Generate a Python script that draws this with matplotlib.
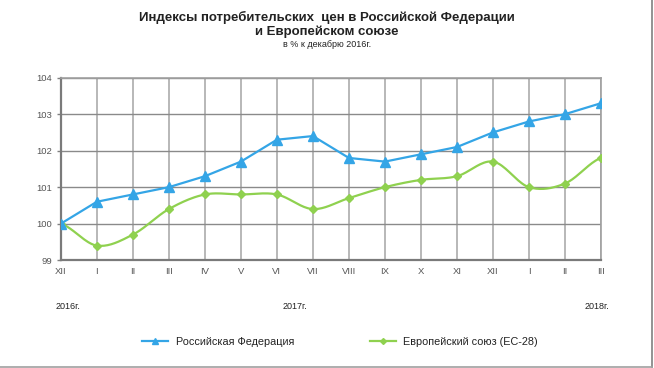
import numpy as np
import matplotlib
matplotlib.use("Agg")
import matplotlib.pyplot as plt
from matplotlib.lines import Line2D

plt.rcParams['font.family'] = ['Liberation Sans', 'DejaVu Sans']

months = ['XII', 'I', 'II', 'III', 'IV', 'V', 'VI', 'VII', 'VIII', 'IX', 'X', 'XI',
          'XII', 'I', 'II', 'III']
years = ['2016г.', '2017г.', '2018г.']
year_pos = [0.2, 6.5, 14.9]
rf = [100.0, 100.6, 100.8, 101.0, 101.3, 101.7, 102.3, 102.4, 101.8, 101.7, 101.9,
      102.1, 102.5, 102.8, 103.0, 103.3]
eu = [100.0, 99.4, 99.7, 100.4, 100.8, 100.8, 100.8, 100.4, 100.7, 101.0, 101.2,
      101.3, 101.7, 101.0, 101.1, 101.8]

blue = '#34a5e6'
green = '#8fd14f'


def smooth(y, steps=20):
    # catmull-rom curve through the points, like the smoothed line in excel
    y = np.asarray(y, float)
    n = len(y)
    xs, ys = [], []
    for i in range(n - 1):
        p0 = y[max(i - 1, 0)]
        p1 = y[i]
        p2 = y[i + 1]
        p3 = y[min(i + 2, n - 1)]
        t = np.linspace(0, 1, steps, endpoint=False)
        yy = 0.5 * (2 * p1 + (-p0 + p2) * t + (2 * p0 - 5 * p1 + 4 * p2 - p3) * t ** 2
                    + (-p0 + 3 * p1 - 3 * p2 + p3) * t ** 3)
        xs.extend(i + t)
        ys.extend(yy)
    xs.append(n - 1)
    ys.append(y[-1])
    return np.array(xs), np.array(ys)


fig = plt.figure(figsize=(6.54, 3.68), dpi=100)
ax = fig.add_axes([0.093, 0.293, 0.826, 0.496])

x = np.arange(len(months))
ax.plot(x, rf, color=blue, lw=1.6, marker='^', ms=6.5, zorder=4)
sx, sy = smooth(eu)
ax.plot(sx, sy, color=green, lw=1.6, zorder=3)
ax.plot(x, eu, ls='none', color=green, marker='D', ms=4.5, zorder=3)

ax.set_xlim(0, len(months) - 1)
ax.set_ylim(99, 104)
ax.set_yticks([99, 100, 101, 102, 103, 104])
ax.set_xticks(x)
ax.set_xticklabels(months)
ax.tick_params(axis='both', labelsize=6.8, labelcolor='#555555', length=3,
               color='#808080', width=1)
ax.tick_params(axis='x', length=0, pad=5)
ax.grid(axis='x', color='#b8b8b8', lw=1.4)
ax.grid(axis='y', color='#8a8a8a', lw=1.0)
ax.set_axisbelow(True)
for s in ['top', 'right']:
    ax.spines[s].set_color('#a0a0a0')
    ax.spines[s].set_linewidth(1.2)
for s in ['left', 'bottom']:
    ax.spines[s].set_color('#7a7a7a')
    ax.spines[s].set_linewidth(1.6)

for yl, yp in zip(years, year_pos):
    ax.annotate(yl, xy=(yp, 0), xycoords=('data', 'figure fraction'),
                xytext=(0, 59), textcoords='offset pixels', ha='center',
                fontsize=6.5, color='#222222')

fig.text(0.5, 0.952, 'Индексы потребительских  цен в Российской Федерации',
         ha='center', va='center', fontsize=9.5, fontweight='bold', color='#222222')
fig.text(0.5, 0.914, 'и Европейском союзе', ha='center', va='center',
         fontsize=9.5, fontweight='bold', color='#222222')
fig.text(0.5, 0.879, 'в % к декабрю 2016г.', ha='center', va='center',
         fontsize=6.5, color='#222222')

handles = [Line2D([], [], color=blue, lw=1.6, marker='^', ms=4),
           Line2D([], [], color=green, lw=1.6, marker='D', ms=3)]
fig.legend(handles, ['Российская Федерация', 'Европейский союз (ЕС-28)'],
           loc='center', bbox_to_anchor=(0.52, 0.07), ncol=2, frameon=False,
           fontsize=7.8, handlelength=2.4, handletextpad=0.7, columnspacing=7,
           labelcolor='#222222')

# frame lines on the right and bottom edge of the picture
fig.add_artist(Line2D([0.997, 0.997], [0.003, 1], color='#808080', lw=1.2))
fig.add_artist(Line2D([0, 0.997], [0.004, 0.004], color='#a0a0a0', lw=1.2))

fig.savefig('out.png', dpi=100)
